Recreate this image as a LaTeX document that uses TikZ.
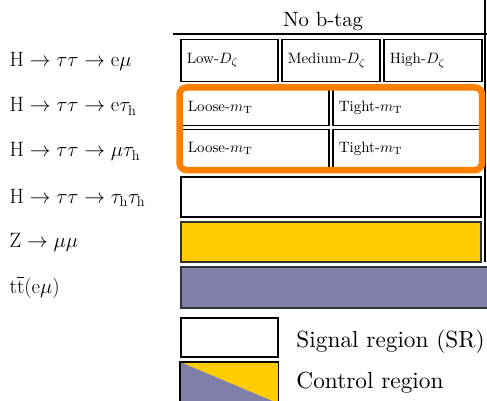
\documentclass[tikz,border=0pt]{standalone}
\usepackage{amsmath}
\usepackage{graphicx}
\usepackage{tikz}
\usetikzlibrary{fit}
\definecolor{crgold}{HTML}{FFCC00}
\definecolor{crlav}{HTML}{7F7FAA}
\definecolor{selorange}{HTML}{FF7F00}
\newcommand{\procfont}{\fontsize{20.8}{25}\selectfont}
\newcommand{\tenfont}{\fontsize{10}{12}\selectfont}
\newcommand{\celltext}[1]{\scalebox{1.5}{\tenfont #1}}

\begin{document}
\begin{tikzpicture}[
    x=1pt, y=-1pt,
    cell/.style={draw=black, line width=1.5pt, anchor=north west, inner xsep=6pt, inner ysep=0pt, align=left},
    band/.style={cell, minimum width=300pt, minimum height=40pt},
    proc/.style={anchor=base west, inner sep=0pt, font=\procfont},
    legtext/.style={anchor=base west, inner sep=0pt, font=\tenfont, scale=2.33},
    sel/.style={draw=selorange, line width=6.5pt, rounded corners=7pt, inner sep=1.5pt},
    rule/.style={line width=1.5pt}
]
\useasboundingbox (0,0) rectangle (487,401);

% header
\node[inner sep=0pt, font=\tenfont, scale=2.07, anchor=base] (nobtag) at (323,27) {No b-tag};
\coordinate (hl) at (173,34);
\coordinate (hr) at (487,34);
\coordinate (vt) at (485,0);
\coordinate (vb) at (485,262);
\draw[rule] (hl) -- (hr);
\draw[rule] (vt) -- (vb);

% processes
\node[proc] (emu)   at (9.5,67)  {$\mathrm{H}\to\tau\tau\to\mathrm{e}\mu$};
\node[proc] (etau)  at (9.5,112) {$\mathrm{H}\to\tau\tau\to\mathrm{e}\tau_\mathrm{h}$};
\node[proc] (mutau) at (9.5,157) {$\mathrm{H}\to\tau\tau\to\mu\tau_\mathrm{h}$};
\node[proc] (tautau) at (9.5,203) {$\mathrm{H}\to\tau\tau\to\tau_\mathrm{h}\tau_\mathrm{h}$};
\node[proc] (zmumu) at (9.5,247) {$\mathrm{Z}\to\mu\mu$};
\node[proc] (ttbar) at (9.5,293) {$\mathrm{t}\overline{\mathrm{t}}(\mathrm{e}\mu)$};

% categories
\node[cell, text width=85pt, minimum height=42pt] (low) at (180,39) {\celltext{Low-$D_\zeta$}};
\node[cell, text width=86pt, minimum height=42pt] (medium) at (281,39) {\celltext{Medium-$D_\zeta$}};
\node[cell, text width=86pt, minimum height=42pt] (high) at (383,39) {\celltext{High-$D_\zeta$}};

\node[cell, text width=135pt, minimum height=36pt] (eloose) at (181,89) {\celltext{Loose-$m_\mathrm{T}$}};
\node[cell, text width=135pt, minimum height=36pt] (etight) at (332,89) {\celltext{Tight-$m_\mathrm{T}$}};
\node[cell, text width=135pt, minimum height=38pt] (muloose) at (181,129) {\celltext{Loose-$m_\mathrm{T}$}};
\node[cell, text width=135pt, minimum height=38pt] (mutight) at (332,129) {\celltext{Tight-$m_\mathrm{T}$}};

\node[band] (tthad) at (180,176) {};
\node[band, fill=crgold, draw=black!80] (zcr) at (180,221) {};
\node[band, fill=crlav, draw=black!80, minimum width=320pt, minimum height=41pt] (ttcr) at (180,266) {};

\node[sel, fit=(eloose)(mutight)] (mtsel) {};

% legend
\node[cell, minimum width=97pt, minimum height=39pt] (legsr) at (180,317) {};
\node[cell, minimum width=97pt, minimum height=40pt] (legcr) at (180,362) {};
\fill[crgold] (legcr.north west) -- (legcr.north east) -- (legcr.south east) -- cycle;
\fill[crlav] (legcr.north west) -- (legcr.south west) -- (legcr.south east) -- cycle;
\draw[line width=1.5pt] (legcr.north west) rectangle (legcr.south east);

\node[legtext] (srtext) at (296,347) {Signal region (SR)};
\node[legtext] (crtext) at (296,388) {Control region};
\end{tikzpicture}
\end{document}
